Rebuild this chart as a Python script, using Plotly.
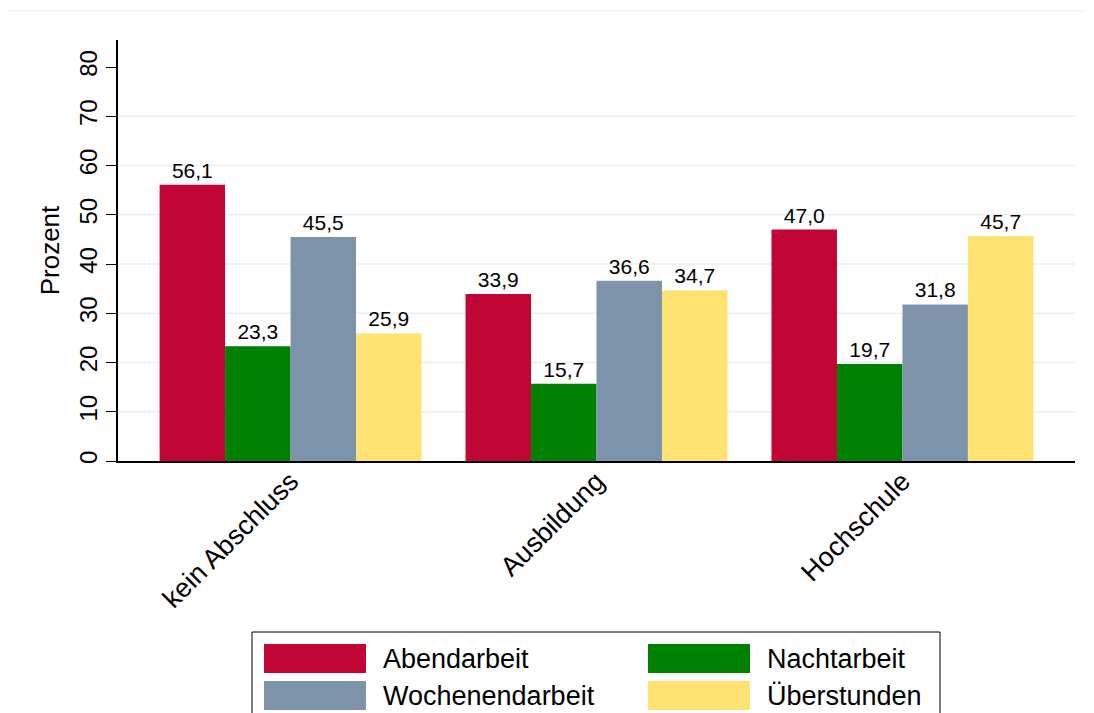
import plotly.graph_objects as go

categories = ["kein Abschluss", "Ausbildung", "Hochschule"]
series_names = ["Abendarbeit", "Nachtarbeit", "Wochenendarbeit", "Überstunden"]
abendarbeit = [56.1, 33.9, 47.0]
nachtarbeit = [23.3, 15.7, 19.7]
wochenendarbeit = [45.5, 36.6, 31.8]
ueberstunden = [25.9, 34.7, 45.7]
y_ticks = [0, 10, 20, 30, 40, 50, 60, 70, 80]
grid_ticks = [10, 20, 30, 40, 50, 60, 70]

colors = ["#c10534", "#008000", "#7d93a9", "#ffe272"]
values = [abendarbeit, nachtarbeit, wochenendarbeit, ueberstunden]

FONT = "Liberation Sans, Arial, sans-serif"
OFF = 8  # page body margin
W, H = 1094 - OFF, 713 - OFF
L, R, T, B = 118 - OFF, 19, 40 - OFF, 252


def px2paper(px, py):
    # convert page pixels to paper coords of the plot area
    px -= OFF
    py -= OFF
    return (px - L) / (W - L - R), (H - B - py) / (H - T - B)


fig = go.Figure()
for name, vals, col in zip(series_names, values, colors):
    fig.add_trace(go.Bar(
        x=categories, y=vals, name=name,
        marker=dict(color=col, line=dict(width=0)),
        texttemplate="%{y:.1f}", textposition="outside",
        textfont=dict(size=21, color="black", family=FONT),
        cliponaxis=False, showlegend=False))

shapes = []
for g in grid_ticks:
    shapes.append(dict(type="line", xref="paper", yref="y", x0=0, x1=1, y0=g, y1=g,
                       line=dict(color="#e6eff1", width=1.5), layer="below"))

# thin frame line at the top of the graph region
x0, y0 = px2paper(5, 11)
x1, _ = px2paper(1089, 11)
shapes.append(dict(type="line", xref="paper", yref="paper", x0=x0, x1=x1, y0=y0, y1=y0,
                   line=dict(color="#e8eeee", width=1)))

# custom legend with wide swatches
bx0, by0 = px2paper(252, 632)
bx1, by1 = px2paper(940, 720)
shapes.append(dict(type="rect", xref="paper", yref="paper", x0=bx0, x1=bx1, y0=by1, y1=by0,
                   line=dict(color="black", width=1), fillcolor="white"))

annotations = []
col_x = [264, 648]
row_y = [644, 681]
for i, (name, col) in enumerate(zip(series_names, colors)):
    cx = col_x[i % 2]
    ry = row_y[i // 2]
    sx0, sy0 = px2paper(cx, ry)
    sx1, sy1 = px2paper(cx + 102, ry + 29)
    shapes.append(dict(type="rect", xref="paper", yref="paper", x0=sx0, x1=sx1, y0=sy1, y1=sy0,
                       line=dict(width=0), fillcolor=col))
    tx, ty = px2paper(cx + 117, ry + 15)
    annotations.append(dict(text=name, xref="paper", yref="paper", x=tx, y=ty,
                            xanchor="left", yanchor="middle", showarrow=False,
                            font=dict(size=27, color="black", family=FONT)))

fig.update_layout(
    width=W, height=H,
    margin=dict(l=L, r=R, t=T, b=B),
    barmode="group", bargap=0.144, bargroupgap=0,
    plot_bgcolor="white", paper_bgcolor="white",
    separators=",.",
    font=dict(family=FONT, color="black"),
    shapes=shapes, annotations=annotations,
    showlegend=False,
)
fig.update_xaxes(
    range=[-0.564, 2.564], showline=True, linecolor="black", linewidth=1.5,
    tickangle=-45, tickfont=dict(size=27, family=FONT), ticks="", showgrid=False,
    ticklabelstandoff=-8,
)
fig.update_yaxes(
    range=[0, 85.5], tickvals=y_ticks, showline=True, linecolor="black", linewidth=1.5,
    ticks="outside", ticklen=10, tickwidth=1.2, tickcolor="black",
    tickangle=-90, tickfont=dict(size=24, family=FONT), showgrid=False, zeroline=False,
    title=dict(text="Prozent", font=dict(size=26, family=FONT), standoff=8),
)

fig.write_html("out.html")
